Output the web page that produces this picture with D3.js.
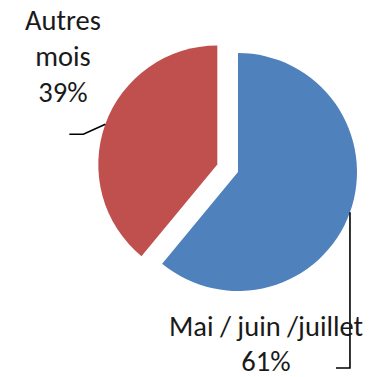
<!DOCTYPE html>
<html>
<head>
<meta charset="utf-8">
<script src="https://cdn.jsdelivr.net/npm/d3@7"></script>
<style>
  html, body { margin: 0; padding: 0; background: #fff; }
  svg { display: block; }
  text { font-family: Carlito, Calibri, Lato, "Open Sans", sans-serif; fill: #1a1a1a; }
</style>
</head>
<body>
<script>
// Share of the year's total, by period
const categories = ["Mai / juin /juillet", "Autres mois"];
const values = [61, 39];
const labelLines = [["Mai / juin /juillet", "61%"], ["Autres", "mois", "39%"]];
const colors = ["#4F81BD", "#C0504D"];

const width = 387, height = 377;
const cx = 238, cy = 172, radius = 119;
const explode = [0, 22];           // radial offset of each slice
const fontSize = 28.5;

const svg = d3.select("body").append("svg")
  .attr("width", width).attr("height", height);

const pie = d3.pie().sort(null).value(d => d)(values);
const arc = d3.arc().innerRadius(0).outerRadius(radius);

const g = svg.append("g").attr("transform", `translate(${cx},${cy})`);

// offset of a slice along its bisector
function shift(d, i) {
  const a = (d.startAngle + d.endAngle) / 2;
  return [Math.sin(a) * explode[i], -Math.cos(a) * explode[i]];
}

g.selectAll("path.slice")
  .data(pie)
  .join("path")
  .attr("class", "slice")
  .attr("fill", (d, i) => colors[i])
  .attr("transform", (d, i) => `translate(${shift(d, i)})`)
  .attr("d", arc);

// point on the outer edge at the middle of a slice
function edgePoint(d, i) {
  const a = (d.startAngle + d.endAngle) / 2;
  const [dx, dy] = shift(d, i);
  return [cx + dx + Math.sin(a) * radius, cy + dy - Math.cos(a) * radius];
}

const line = d3.line();

// leader line for the first slice: straight down, then a short tick left
const p0 = edgePoint(pie[0], 0);
const tickY0 = 368;
svg.append("path")
  .attr("fill", "none").attr("stroke", "#000").attr("stroke-width", 1.6)
  .attr("d", line([p0, [p0[0], tickY0], [p0[0] - 14, tickY0]]));

// leader line for the second slice: a kink then a short horizontal run
const p1 = edgePoint(pie[1], 1);
svg.append("path")
  .attr("fill", "none").attr("stroke", "#000").attr("stroke-width", 1.6)
  .attr("d", line([p1, [p1[0] - 22, p1[1] + 10], [p1[0] - 36, p1[1] + 10]]));

// labels
function drawLabel(lines, x, yFirst, gap) {
  const t = svg.append("text")
    .attr("text-anchor", "middle")
    .attr("font-size", fontSize);
  lines.forEach((s, k) => {
    t.append("tspan").attr("x", x).attr("y", yFirst + k * gap).text(s);
  });
}

drawLabel(labelLines[0], 266, 336, 34.5);
drawLabel(labelLines[1], 63, 30, 36);
</script>
</body>
</html>
